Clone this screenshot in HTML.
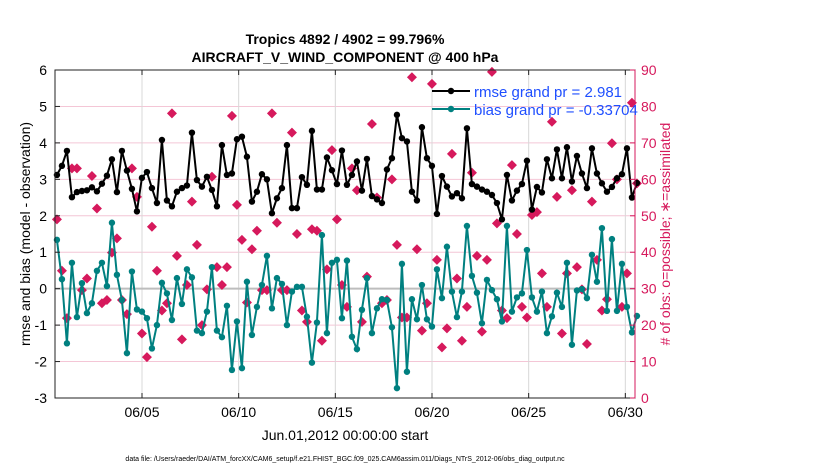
<!DOCTYPE html>
<html><head><meta charset="utf-8">
<style>
body{margin:0;background:#fff;width:830px;height:470px;overflow:hidden;font-family:"Liberation Sans",sans-serif;}
svg text{font-family:"Liberation Sans",sans-serif;}
</style></head>
<body>
<svg id="chart" width="830" height="470" xmlns="http://www.w3.org/2000/svg">
<text x="345" y="44" font-size="14" font-weight="bold" text-anchor="middle">Tropics 4892 / 4902 = 99.796%</text>
<text x="345" y="62" font-size="14" font-weight="bold" text-anchor="middle">AIRCRAFT_V_WIND_COMPONENT @ 400 hPa</text>
<g id="grid"></g>
<g id="series"></g>
<g id="axes"></g>
<text transform="translate(30,234) rotate(-90)" font-size="14" text-anchor="middle">rmse and bias (model - observation)</text>
<text transform="translate(670,234) rotate(-90)" font-size="14" fill="#d6195c" text-anchor="middle"># of obs: o=possible; ∗=assimilated</text>
<text x="345" y="440" font-size="14" text-anchor="middle">Jun.01,2012 00:00:00 start</text>
<text x="345" y="461" font-size="7" text-anchor="middle">data file: /Users/raeder/DAI/ATM_forcXX/CAM6_setup/f.e21.FHIST_BGC.f09_025.CAM6assim.011/Diags_NTrS_2012-06/obs_diag_output.nc</text>
<g>
<line x1="432" y1="91" x2="470" y2="91" stroke="#000" stroke-width="2"/>
<circle cx="451" cy="91" r="3.2" fill="#000"/>
<text x="474" y="97" font-size="15" fill="#1f4fff">rmse grand pr = 2.981</text>
<line x1="432" y1="109" x2="470" y2="109" stroke="#008080" stroke-width="2"/>
<circle cx="451" cy="109" r="3.2" fill="#008080"/>
<text x="474" y="115" font-size="15" fill="#1f4fff">bias grand pr = -0.33704</text>
</g>
</svg>
<script>
const rmse=[3.12,3.37,3.78,2.51,2.65,2.68,2.7,2.78,2.67,2.88,3.1,3.55,2.65,3.78,3.24,2.74,2.12,3.04,3.2,
2.76,2.35,4.08,2.42,2.26,2.66,2.76,2.83,4.28,2.98,2.8,3.07,2.71,2.26,3.94,3.12,3.16,4.1,4.17,
3.62,2.39,2.66,3.14,3.0,2.07,2.48,2.76,3.94,2.21,2.21,3.06,2.85,4.33,2.72,2.72,3.6,3.25,2.87,
3.79,2.85,3.12,3.49,2.69,3.56,2.54,2.45,2.35,3.27,3.58,4.77,4.13,4.04,2.66,2.42,4.43,3.58,3.37,
2.05,3.09,2.8,2.53,2.62,2.48,4.4,2.87,2.8,2.72,2.66,2.57,2.35,1.9,3.12,2.42,2.69,2.87,3.51,
2.17,2.79,2.64,3.55,3.03,3.82,3.03,3.88,2.94,3.64,3.16,2.76,3.85,3.16,2.89,2.66,2.79,3.03,3.14,3.85,2.5,2.9];
const bias=[1.34,0.26,-1.5,0.71,-0.78,0.15,-0.67,-0.4,0.49,0.71,0.07,1.81,0.38,-0.31,-1.77,0.47,-0.57,-0.63,-0.81,
-1.64,-1.0,0.16,-0.13,-0.86,0.29,-0.42,0.53,0.31,-1.15,-1.22,-0.63,0.59,-1.15,-1.33,-0.47,-2.23,-0.9,-2.18,
0.19,-1.27,-0.5,0.1,0.9,-0.54,0.29,0.13,-1.0,-0.08,0.05,0.05,-0.77,-2.03,-0.93,1.47,-1.22,0.71,0.79,
-0.81,0.77,-1.32,-1.66,-0.58,0.29,-1.22,-0.54,-0.29,-0.31,-1.06,-2.73,0.68,-2.28,-0.29,-0.84,0.1,-0.84,-1.04,
0.53,-0.26,1.15,-0.08,-0.78,-0.08,1.72,0.35,-0.11,-0.95,0.24,-0.04,-0.29,-0.9,1.72,-0.63,-0.24,-0.13,1.06,
-0.24,-0.63,-0.08,-1.22,-0.76,-0.11,-0.5,0.71,-1.54,-0.05,-0.01,-0.26,0.93,0.19,1.66,-0.61,1.36,-0.61,0.68,-0.5,-1.2,-0.75];
const nobs=[49,34.9,21.9,63,63,29.6,32.8,60.9,52,26,26.9,39.9,43.8,26.9,23,63,55.2,17.7,11.2,
47,34.9,24,26,78.1,39,16.1,31,53.9,42,20,29.8,60.7,35.9,31,35.9,77.4,53,43.4,
26.2,40.8,45.9,29.6,29.6,78.1,48.1,29.6,29.6,72.8,45,24,20.9,46.3,45.9,15.7,35.3,68,49,
31,25,63,57,20.9,33.3,75.2,55,26,26.9,60,42,22.1,22.1,88,40.8,18.5,26,86.2,
37.9,13.9,19.1,67,32.8,15.7,25,61.8,39,18.2,37.9,89.5,47.9,24,21.9,63.9,45,25,22.1,
50.2,51,34.2,25,75.8,55.2,17.7,34.2,57,35.9,29.8,14.8,53.9,37.9,24,27.1,69.9,60,25,34.2,81,58.9];
const leftTicks=[6,5,4,3,2,1,0,-1,-2,-3];
const rightTicks=[90,80,70,60,50,40,30,20,10,0];
const xTickDays=[4.5,9.5,14.5,19.5,24.5,29.5];
const xTickLabels=["06/05","06/10","06/15","06/20","06/25","06/30"];
const startDay=0.1, stepDay=580/116/19.333;

const X0=55,X1=635,Y0=70,Y1=398;
const xs=d=>X0+(d/30)*(X1-X0);
const yl=v=>Y1-(v+3)/9*(Y1-Y0);
const yr=v=>Y1-v/90*(Y1-Y0);
const NS="http://www.w3.org/2000/svg";
function mk(tag,attrs,parent){const e=document.createElementNS(NS,tag);for(const k in attrs)e.setAttribute(k,attrs[k]);parent.appendChild(e);return e;}
const grid=document.getElementById('grid'),ser=document.getElementById('series'),axes=document.getElementById('axes');
mk('rect',{x:X0,y:Y0,width:X1-X0,height:Y1-Y0,fill:'#fff'},grid);
leftTicks.forEach(t=>{const l=mk('line',{x1:X0,x2:X1,y1:yl(t),y2:yl(t),stroke:'#f4c6d6','stroke-width':1},grid);

});
xTickDays.forEach(d=>{const l=mk('line',{x1:xs(d),x2:xs(d),y1:Y0,y2:Y1,stroke:'#d8d8d8','stroke-width':1},grid);

});
const z=mk('line',{x1:X0,x2:X1,y1:yl(0),y2:yl(0),stroke:'#bdbdbd','stroke-width':2},grid);


const tday=i=>startDay+i*stepDay;
nobs.forEach((v,i)=>{const cx=xs(tday(i)),cy=yr(v);
const p=mk('path',{d:`M${cx-5},${cy}L${cx},${cy-5}L${cx+5},${cy}L${cx},${cy+5}Z`,fill:'#d6195c'},ser);

});
function line(arr,color,name){
const pts=arr.map((v,i)=>xs(tday(i)).toFixed(1)+','+yl(v).toFixed(1)).join(' ');
const pl=mk('polyline',{points:pts,fill:'none',stroke:color,'stroke-width':2},ser);


arr.forEach((v,i)=>{const c=mk('circle',{cx:xs(tday(i)),cy:yl(v),r:3.2,fill:color},ser);

});}
line(bias,'#008080','bias');
line(rmse,'#000','rmse');
mk('rect',{x:X0,y:Y0,width:X1-X0,height:Y1-Y0,fill:'none',stroke:'#222','stroke-width':1},axes);
mk('line',{x1:X1,x2:X1,y1:Y0,y2:Y1,stroke:'#d6195c','stroke-width':1},axes);
leftTicks.forEach(t=>{mk('line',{x1:X0,x2:X0+5,y1:yl(t),y2:yl(t),stroke:'#222'},axes);
const tx=mk('text',{x:X0-8,y:yl(t)+5,'font-size':14,'text-anchor':'end'},axes);tx.textContent=t;

});
rightTicks.forEach(t=>{mk('line',{x1:X1-5,x2:X1,y1:yr(t),y2:yr(t),stroke:'#d6195c'},axes);
const tx=mk('text',{x:X1+6,y:yr(t)+5,'font-size':14,fill:'#d6195c'},axes);tx.textContent=t;

});
xTickDays.forEach((d,i)=>{mk('line',{x1:xs(d),x2:xs(d),y1:Y1,y2:Y1-5,stroke:'#222'},axes);
mk('line',{x1:xs(d),x2:xs(d),y1:Y0,y2:Y0+5,stroke:'#222'},axes);
const tx=mk('text',{x:xs(d),y:Y1+19,'font-size':14,'text-anchor':'middle'},axes);tx.textContent=xTickLabels[i];

});
</script>
</body></html>
